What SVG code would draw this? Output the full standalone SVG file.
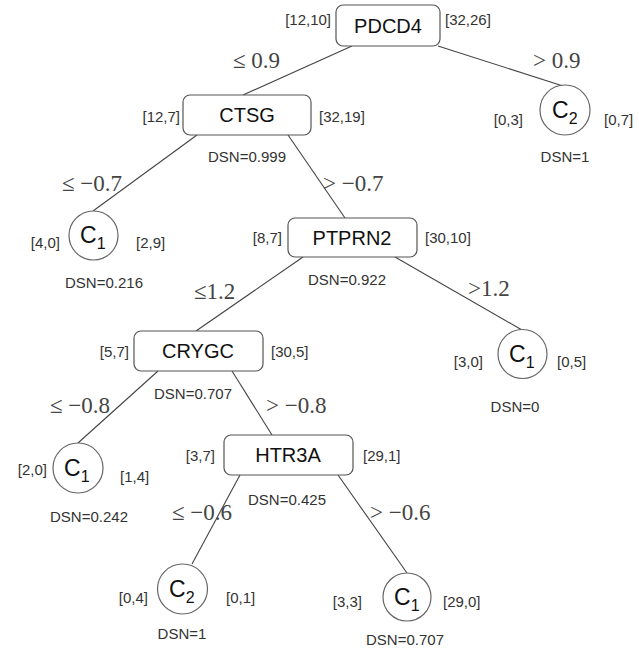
<svg xmlns="http://www.w3.org/2000/svg" width="639" height="652" viewBox="0 0 639 652">
  <style>
    .box { fill: #ffffff; stroke: #555555; stroke-width: 1.2; }
    .leaf { fill: #ffffff; stroke: #666666; stroke-width: 1.2; }
    .edge { stroke: #444444; stroke-width: 1.1; fill: none; }
    .name { font-family: "Liberation Sans", Arial, sans-serif; font-size: 20px; fill: #111111; text-anchor: middle; }
    .cls { font-family: "Liberation Sans", Arial, sans-serif; font-size: 23px; fill: #111111; }
    .sub { font-size: 16px; }
    .cnt { font-family: "Liberation Sans", Arial, sans-serif; font-size: 15px; fill: #333333; }
    .end { text-anchor: end; }
    .dsn { font-family: "Liberation Sans", Arial, sans-serif; font-size: 15px; fill: #333333; text-anchor: middle; }
    .cond { font-family: "Liberation Serif", "Times New Roman", serif; font-size: 23px; fill: #444444; }
  </style>

  <!-- connectors -->
  <g id="connectors">
    <line class="edge" x1="352" y1="46" x2="243" y2="95"/>
    <line class="edge" x1="438" y1="46" x2="563" y2="86"/>
    <line class="edge" x1="197" y1="135" x2="93" y2="211"/>
    <line class="edge" x1="288" y1="135" x2="345" y2="218"/>
    <line class="edge" x1="303" y1="257" x2="196" y2="331"/>
    <line class="edge" x1="395" y1="257" x2="522" y2="330"/>
    <line class="edge" x1="158" y1="371" x2="78" y2="443"/>
    <line class="edge" x1="232" y1="371" x2="272" y2="435"/>
    <line class="edge" x1="240" y1="475" x2="192" y2="564"/>
    <line class="edge" x1="338" y1="475" x2="407" y2="573"/>

    <!-- split conditions -->
    <text class="cond" x="233" y="68">≤ 0.9</text>
    <text class="cond" x="533" y="68">&gt; 0.9</text>
    <text class="cond" x="62" y="191">≤ −0.7</text>
    <text class="cond" x="323" y="191">&gt; −0.7</text>
    <text class="cond" x="194" y="299">≤1.2</text>
    <text class="cond" x="468" y="296">&gt;1.2</text>
    <text class="cond" x="50" y="413">≤ −0.8</text>
    <text class="cond" x="266" y="413">&gt; −0.8</text>
    <text class="cond" x="172" y="520">≤ −0.6</text>
    <text class="cond" x="370" y="520">&gt; −0.6</text>
  </g>

  <g id="node-pdcd4">
    <rect class="box" x="336" y="5" width="104" height="41" rx="7"/>
    <text class="name" x="388" y="33">PDCD4</text>
    <text class="cnt end" x="331" y="25">[12,10]</text>
    <text class="cnt" x="445" y="25">[32,26]</text>
  </g>

  <g id="node-ctsg">
    <rect class="box" x="183" y="95" width="128" height="40" rx="7"/>
    <text class="name" x="247" y="122">CTSG</text>
    <text class="cnt end" x="180" y="122">[12,7]</text>
    <text class="cnt" x="319" y="122">[32,19]</text>
    <text class="dsn" x="247" y="162">DSN=0.999</text>
  </g>

  <g id="leaf-c2-top">
    <circle class="leaf" cx="565" cy="110" r="25"/>
    <text class="cls" x="552" y="118">C<tspan class="sub" dy="6">2</tspan></text>
    <text class="cnt end" x="523" y="125">[0,3]</text>
    <text class="cnt" x="604" y="125">[0,7]</text>
    <text class="dsn" x="565" y="162">DSN=1</text>
  </g>

  <g id="leaf-c1-a">
    <circle class="leaf" cx="93.5" cy="235.5" r="24.5"/>
    <text class="cls" x="80" y="243">C<tspan class="sub" dy="6">1</tspan></text>
    <text class="cnt end" x="60" y="248">[4,0]</text>
    <text class="cnt" x="136" y="248">[2,9]</text>
    <text class="dsn" x="104" y="288">DSN=0.216</text>
  </g>

  <g id="node-ptprn2">
    <rect class="box" x="288" y="218" width="129" height="39" rx="7"/>
    <text class="name" x="352" y="245">PTPRN2</text>
    <text class="cnt end" x="282" y="243">[8,7]</text>
    <text class="cnt" x="425" y="243">[30,10]</text>
    <text class="dsn" x="347" y="285">DSN=0.922</text>
  </g>

  <g id="node-crygc">
    <rect class="box" x="134" y="331" width="129" height="40" rx="7"/>
    <text class="name" x="198" y="358">CRYGC</text>
    <text class="cnt end" x="129" y="357">[5,7]</text>
    <text class="cnt" x="271" y="357">[30,5]</text>
    <text class="dsn" x="193" y="399">DSN=0.707</text>
  </g>

  <g id="leaf-c1-b">
    <circle class="leaf" cx="522.5" cy="354" r="24.5"/>
    <text class="cls" x="509" y="362">C<tspan class="sub" dy="6">1</tspan></text>
    <text class="cnt end" x="483" y="367">[3,0]</text>
    <text class="cnt" x="557" y="367">[0,5]</text>
    <text class="dsn" x="515" y="412">DSN=0</text>
  </g>

  <g id="leaf-c1-c">
    <circle class="leaf" cx="78" cy="468" r="25"/>
    <text class="cls" x="64" y="476">C<tspan class="sub" dy="6">1</tspan></text>
    <text class="cnt end" x="47" y="475">[2,0]</text>
    <text class="cnt" x="120" y="482">[1,4]</text>
    <text class="dsn" x="89" y="522">DSN=0.242</text>
  </g>

  <g id="node-htr3a">
    <rect class="box" x="224" y="435" width="129" height="40" rx="7"/>
    <text class="name" x="288" y="462">HTR3A</text>
    <text class="cnt end" x="215" y="461">[3,7]</text>
    <text class="cnt" x="363" y="461">[29,1]</text>
    <text class="dsn" x="287" y="505">DSN=0.425</text>
  </g>

  <g id="leaf-c2-bottom">
    <circle class="leaf" cx="182.5" cy="589" r="25"/>
    <text class="cls" x="169" y="597">C<tspan class="sub" dy="6">2</tspan></text>
    <text class="cnt end" x="148" y="603">[0,4]</text>
    <text class="cnt" x="226" y="603">[0,1]</text>
    <text class="dsn" x="182" y="639">DSN=1</text>
  </g>

  <g id="leaf-c1-d">
    <circle class="leaf" cx="407" cy="597" r="24"/>
    <text class="cls" x="394" y="605">C<tspan class="sub" dy="6">1</tspan></text>
    <text class="cnt end" x="362" y="607">[3,3]</text>
    <text class="cnt" x="443" y="607">[29,0]</text>
    <text class="dsn" x="405" y="645">DSN=0.707</text>
  </g>
</svg>
